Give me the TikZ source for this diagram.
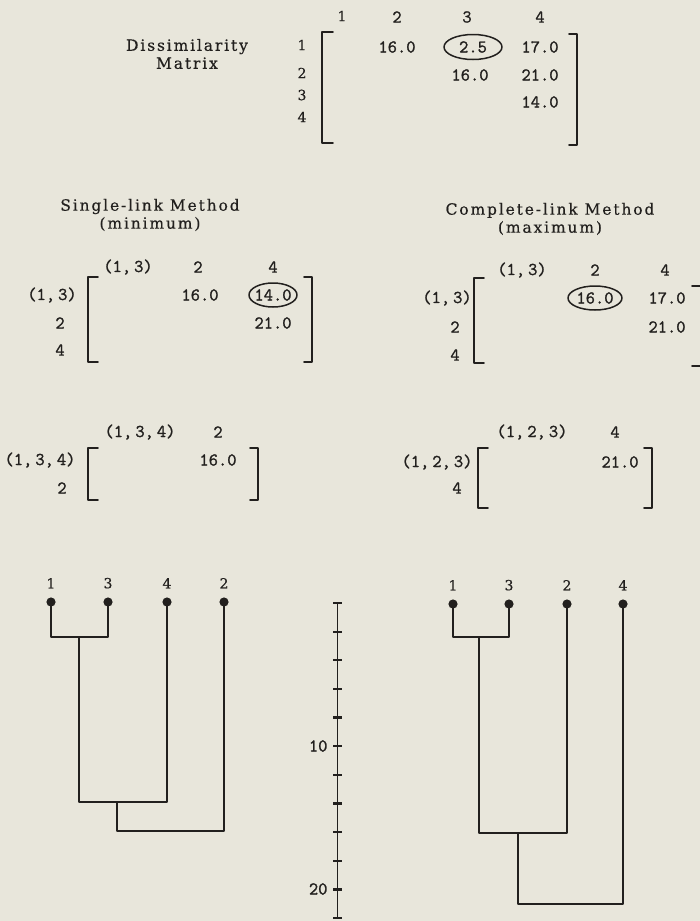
\documentclass[tikz,border=0pt]{standalone}
\usepackage{fontspec}
\setmainfont[FakeBold=0.4]{DejaVu Serif}
\newfontfamily\headfont[LetterSpace=12, FakeBold=0.4]{DejaVu Serif}
\newfontfamily\twfont[FakeBold=1.3]{Latin Modern Mono}
\definecolor{paper}{RGB}{232,230,219}
\definecolor{ink}{RGB}{34,32,30}
\newcommand\narrowsp{\spaceskip 3pt\relax}

\begin{document}
\begin{tikzpicture}[x=1pt, y=-1pt, line join=round, line cap=round, ink,
		title/.style={font=\headfont\fontsize{15.5}{18}\selectfont, align=center},
		lab/.style={font=\fontsize{14}{14}\selectfont},
		tw/.style={font=\twfont\fontsize{18}{18}\selectfont\narrowsp},
		brk/.style={line width=1.6pt},
		link/.style={line width=1.6pt},
		ring/.style={line width=1.5pt},
		tick/.style={line width=2.2pt, line cap=butt}]
			\fill[paper] (0,0) rectangle (700,921);
			\useasboundingbox (0,0) rectangle (700,921);
			
			% Dissimilarity matrix
			\node[title] (dtitle) at (187,54) {Dissimilarity\\Matrix};
			\node[lab] (dc1) at (342,16) {1};
			\node[tw] (dc2) at (397,17) {2};
			\node[tw] (dc3) at (467,17) {3};
			\node[tw] (dc4) at (540,17) {4};
			\foreach \i/\y in {1/45,2/73,3/95,4/117}
				\node[lab] (dr\i) at (302,\y) {\i};
			\draw[brk] (333,32) -- (322,32) -- (322,143) -- (333,143);
			\draw[brk] (569,34) -- (577,34) -- (577,145) -- (569,145);
			\node[tw] (d12) at (397,47) {16.0};
			\node[tw] (d13) at (473,47) {2.5};
			\node[tw] (d14) at (540,47) {17.0};
			\node[tw] (d23) at (470,75) {16.0};
			\node[tw] (d24) at (540,75) {21.0};
			\node[tw] (d34) at (540,102) {14.0};
			\draw[ring] (d13) ellipse (29 and 12.5);
			
			% Single-link, first step
			\node[title] (stitle) at (150,215) {Single-link Method\\(minimum)};
			\node[tw] (sc13) at (128,267) {(1, 3)};
			\node[tw] (sc2) at (198,267) {2};
			\node[tw] (sc4) at (273,267) {4};
			\node[tw] (sr13) at (52,295) {(1, 3)};
			\node[tw] (sr2) at (60,323) {2};
			\node[tw] (sr4) at (60,350) {4};
			\draw[brk] (98,277) -- (88,277) -- (88,362) -- (98,362);
			\draw[brk] (304,277) -- (312,277) -- (312,362) -- (304,362);
			\node[tw] (s132) at (200,295) {16.0};
			\node[tw] (s134) at (273,295) {14.0};
			\node[tw] (s24) at (273,323) {21.0};
			\draw[ring] (s134) ellipse (24 and 12);
			
			% Complete-link, first step
			\node[title] (ctitle) at (550,219) {Complete-link Method\\(maximum)};
			\node[tw] (cc13) at (522,270) {(1, 3)};
			\node[tw] (cc2) at (595,270) {2};
			\node[tw] (cc4) at (665,270) {4};
			\node[tw] (cr13) at (447,298) {(1, 3)};
			\node[tw] (cr2) at (455,327) {2};
			\node[tw] (cr4) at (455,355) {4};
			\draw[brk] (484,278) -- (474,278) -- (474,363) -- (484,363);
			\draw[brk] (692,286) -- (702,286) -- (702,366) -- (692,366);
			\node[tw] (c132) at (595,298) {16.0};
			\node[tw] (c134) at (667,298) {17.0};
			\node[tw] (c24) at (667,327) {21.0};
			\draw[ring] (c132) ellipse (27 and 12);
			
			% Single-link, second step
			\node[tw] (tc134) at (140,432) {(1, 3, 4)};
			\node[tw] (tc2) at (218,432) {2};
			\node[tw] (tr134) at (40,460) {(1, 3, 4)};
			\node[tw] (tr2) at (62,488) {2};
			\draw[brk] (98,448) -- (88,448) -- (88,500) -- (98,500);
			\draw[brk] (250,448) -- (258,448) -- (258,500) -- (250,500);
			\node[tw] (t1342) at (218,460) {16.0};
			
			% Complete-link, second step
			\node[tw] (uc123) at (532,432) {(1, 2, 3)};
			\node[tw] (uc4) at (615,432) {4};
			\node[tw] (ur123) at (437,462) {(1, 2, 3)};
			\node[tw] (ur4) at (457,488) {4};
			\draw[brk] (488,448) -- (478,448) -- (478,508) -- (488,508);
			\draw[brk] (644,448) -- (652,448) -- (652,508) -- (644,508);
			\node[tw] (u1234) at (620,462) {21.0};
			
			% Single-link dendrogram
			\coordinate (s1) at (51,602);
			\coordinate (s3) at (108,602);
			\coordinate (s4) at (167,602);
			\coordinate (s2) at (224,602);
			\coordinate (sm13) at (79,637);
			\coordinate (sm134) at (117,802);
			\coordinate (sroot) at (117,831);
			\draw[link] (s1) |- (sm13) -| (s3);
			\draw[link] (sm13) |- (sm134) -| (s4);
			\draw[link] (sm134) |- (sroot) -| (s2);
			\foreach \p/\t in {s1/1,s3/3,s4/4,s2/2}
				\fill (\p) circle (4.6) node[lab, above=10pt] (\p-l) {\t};
			
			% Complete-link dendrogram
			\coordinate (c1) at (453,604);
			\coordinate (c3) at (509,604);
			\coordinate (c2) at (567,604);
			\coordinate (c4) at (623,604);
			\coordinate (cm13) at (479,637);
			\coordinate (cm132) at (518,833);
			\coordinate (croot) at (518,904);
			\draw[link] (c1) |- (cm13) -| (c3);
			\draw[link] (cm13) |- (cm132) -| (c2);
			\draw[link] (cm132) |- (croot) -| (c4);
			\foreach \p/\t in {c1/1,c3/3,c2/2,c4/4}
				\fill (\p) circle (4.6) node[lab, above=10pt] (\p-l) {\t};
			
			% Distance scale
			\draw[link] (337.5,603) -- (337.5,918);
			\foreach \k in {0,...,11}
				\draw[tick] (333,{603+\k*28.64}) -- (342,{603+\k*28.64});
			\node[tw, anchor=east] (k10) at (331,746) {10};
			\node[tw, anchor=east] (k20) at (331,889) {20};
		\end{tikzpicture}
\end{document}
